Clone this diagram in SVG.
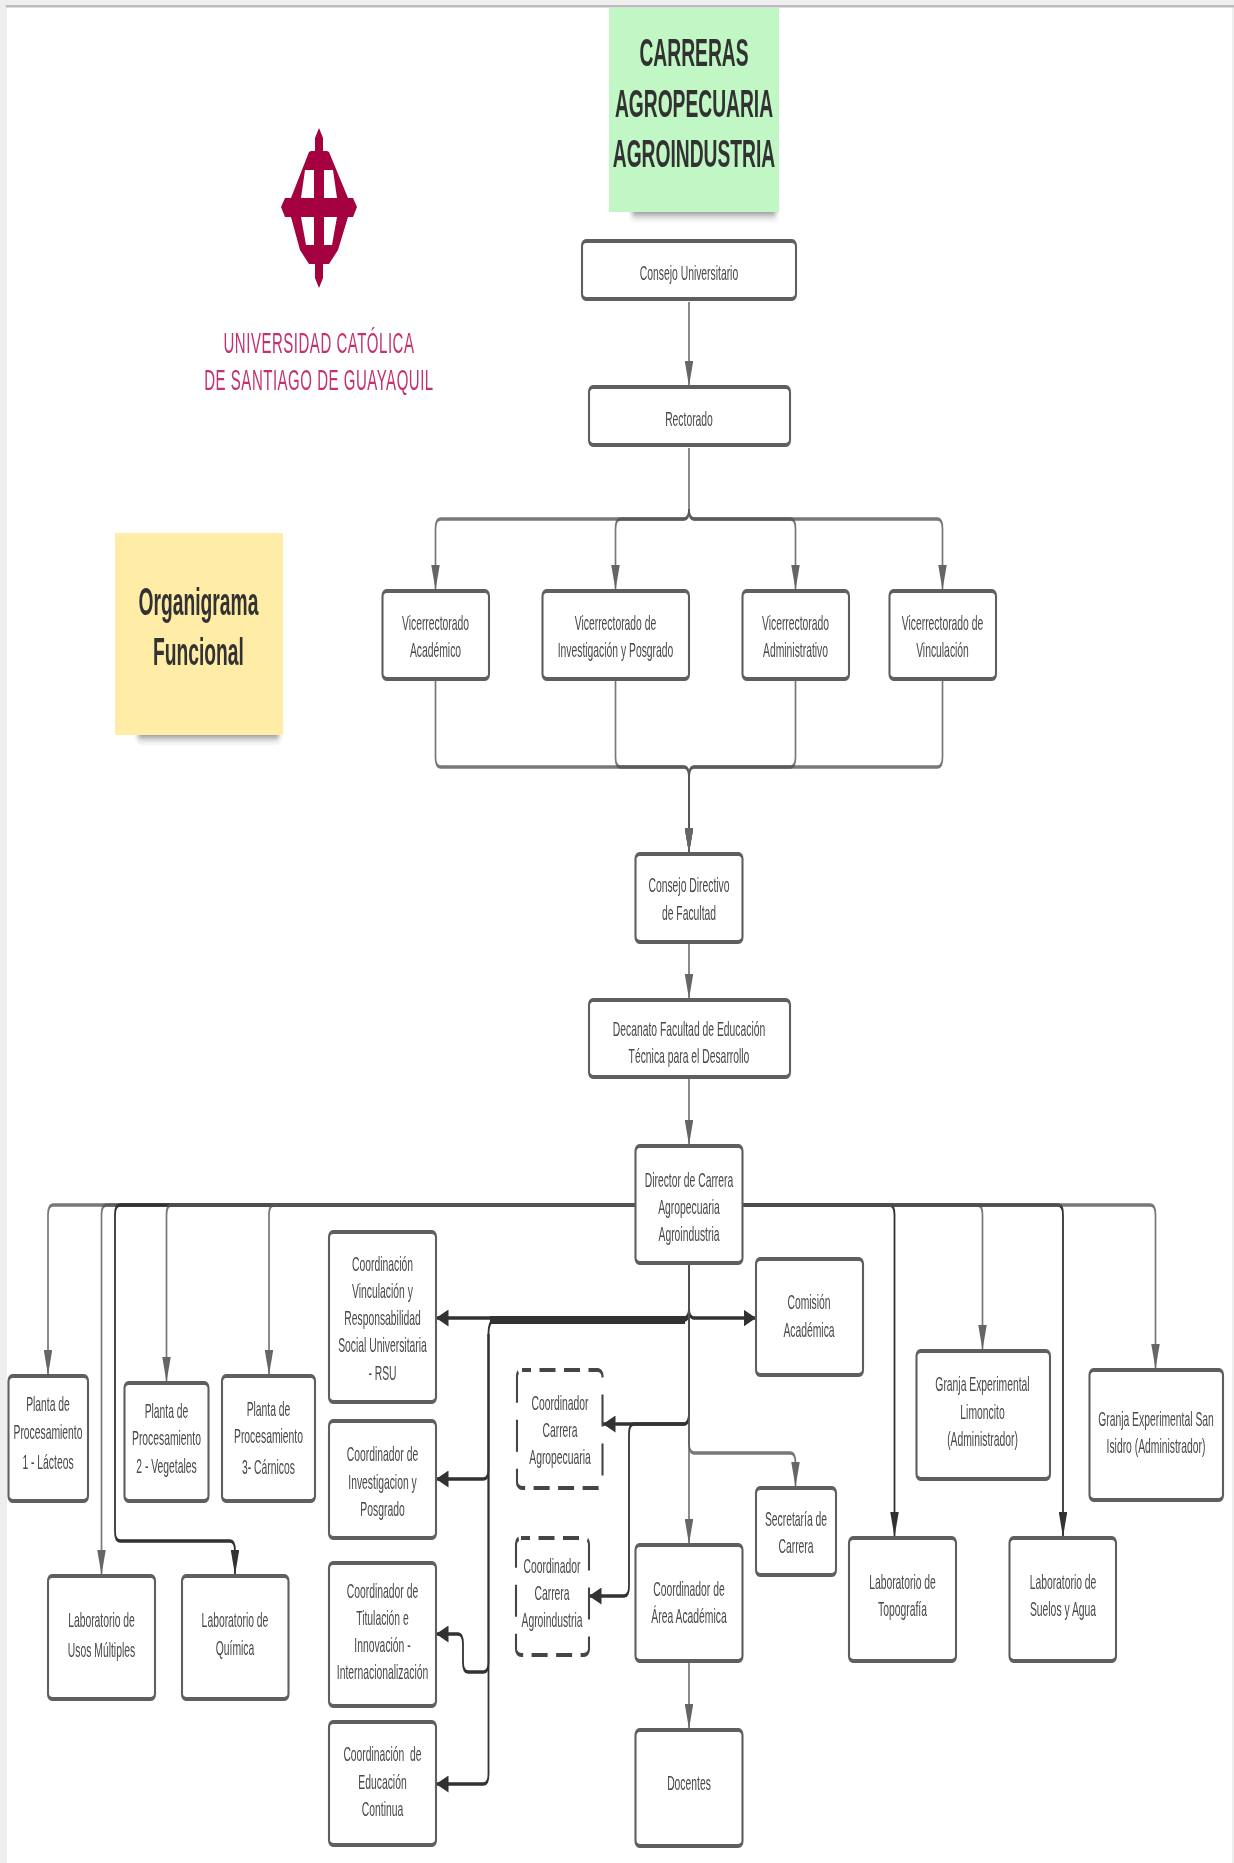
<svg xmlns="http://www.w3.org/2000/svg" width="1234" height="1863" viewBox="0 0 1234 1863">
<style>
.b{fill:#fff;stroke:#5f5f5f;stroke-width:4.2}
.d{fill:#fff;stroke:#444;stroke-width:4.2;stroke-dasharray:32 17;stroke-dashoffset:14}
.t{font-family:"Liberation Sans",Arial,sans-serif;font-size:20.7px;fill:#484848;text-anchor:middle}
.h{font-family:"Liberation Sans",Arial,sans-serif;font-size:38.5px;font-weight:bold;fill:#333;text-anchor:middle}
.l{font-family:"Liberation Sans",Arial,sans-serif;font-size:30px;letter-spacing:1.05px;fill:#c2326f;text-anchor:middle}
.g{fill:none;stroke:#555;stroke-width:3.4;stroke-opacity:.8;marker-end:url(#ag)}
.g0{fill:none;stroke:#555;stroke-width:3.4;stroke-opacity:.8}
.k{fill:none;stroke:#333;stroke-width:3.6;marker-end:url(#ak)}
</style>
<defs>
<marker id="ag" markerUnits="userSpaceOnUse" markerWidth="25" markerHeight="17" refX="25" refY="8.5" orient="auto"><path d="M0 0L25 8.5L0 17Z" fill="#666"/></marker>
<marker id="ak" markerUnits="userSpaceOnUse" markerWidth="25" markerHeight="17" refX="25" refY="8.5" orient="auto"><path d="M0 0L25 8.5L0 17Z" fill="#333"/></marker>
<filter id="sh" x="-20%" y="-50%" width="140%" height="200%"><feGaussianBlur stdDeviation="4"/></filter>
<filter id="soft" filterUnits="userSpaceOnUse" x="0" y="0" width="2468" height="1863"><feGaussianBlur stdDeviation="0.9 0.55"/></filter>
</defs>
<rect width="1234" height="1863" fill="#fff"/>
<rect width="7" height="1863" fill="#eee"/>
<rect width="1234" height="5" fill="#eee"/>
<rect x="1232" width="2" height="1863" fill="#eee"/>
<rect x="6" y="5" width="1228" height="2.5" fill="#bbb"/>
<g transform="scale(.5 1)" filter="url(#soft)">
<g id="logo">
<g transform="scale(2 1)"><path fill="#a5003f" fill-rule="evenodd" d="M319 128L323 138V151H327L329 152L348 198H353L357 207L353 217H348L338 250L329 264H323V278L319 288L315 278V264H309L300 250L291 217H285L281 207L285 198H291L309 152L311 151H315V138ZM305 170H314V198H301ZM324 170H333L337 198H324ZM301 217H314V245H306ZM324 217H337L332 245H324Z"/></g>
<text class="l"><tspan x="638" y="353">UNIVERSIDAD CATÓLICA</tspan><tspan x="638" y="390">DE SANTIAGO DE GUAYAQUIL</tspan></text>
</g>
<g id="note-carreras">
<rect x="1264" y="200" width="288" height="15" fill="#555" opacity=".7" filter="url(#sh)"/>
<rect x="1218" y="8" width="340" height="204" fill="#c1f7c4"/>
<text class="h"><tspan x="1388" y="66">CARRERAS</tspan><tspan x="1388" y="117">AGROPECUARIA</tspan><tspan x="1388" y="167">AGROINDUSTRIA</tspan></text>
</g>
<g id="note-organigrama">
<rect x="276" y="723" width="282" height="15" fill="#555" opacity=".7" filter="url(#sh)"/>
<rect x="230" y="533" width="336" height="202" fill="#ffeca6"/>
<text class="h"><tspan x="397" y="615">Organigrama</tspan><tspan x="397" y="665">Funcional</tspan></text>
</g>
<g id="connectors">
<path class="g" d="M1378 302V386"/>
<path class="g0" d="M1378 448V509"/>
<path class="g" d="M1378 509Q1378 519 1368 519H881Q871 519 871 529V590"/>
<path class="g" d="M1378 509Q1378 519 1368 519H1241Q1231 519 1231 529V590"/>
<path class="g" d="M1378 509Q1378 519 1388 519H1581Q1591 519 1591 529V590"/>
<path class="g" d="M1378 509Q1378 519 1388 519H1875Q1885 519 1885 529V590"/>
<path class="g" d="M871 681V757Q871 767 881 767H1368Q1378 767 1378 777V853"/>
<path class="g" d="M1231 681V757Q1231 767 1241 767H1368Q1378 767 1378 777V853"/>
<path class="g" d="M1591 681V757Q1591 767 1581 767H1388Q1378 767 1378 777V853"/>
<path class="g" d="M1885 681V757Q1885 767 1875 767H1388Q1378 767 1378 777V853"/>
<path class="g" d="M1378 943V999"/>
<path class="g" d="M1378 1078V1145"/>
<path class="g" d="M1271 1205H106Q96 1205 96 1215V1375"/>
<path class="g" d="M1271 1205H213Q203 1205 203 1215V1575"/>
<path class="k" d="M1271 1205H240Q230 1205 230 1215V1531Q230 1541 240 1541H460Q470 1541 470 1551V1575"/>
<path class="g" d="M1271 1205H343Q333 1205 333 1215V1382"/>
<path class="g" d="M1271 1205H548Q538 1205 538 1215V1375"/>
<path class="k" d="M1485 1205H1779Q1789 1205 1789 1215V1537"/>
<path class="g" d="M1485 1205H1955Q1965 1205 1965 1215V1350"/>
<path class="k" d="M1485 1205H2116Q2126 1205 2126 1215V1537"/>
<path class="g" d="M1485 1205H2301Q2311 1205 2311 1215V1369"/>
<path d="M980 1320H1370" fill="none" stroke="#333" stroke-width="8"/>
<path class="k" d="M1378 1264V1308Q1378 1318 1368 1318H872"/>
<path class="k" d="M1378 1264V1310Q1378 1320 1368 1320H991Q977 1320 977 1334V1469Q977 1479 967 1479H872"/>
<path class="k" d="M977 1334V1662Q977 1672 967 1672H936Q926 1672 926 1662V1644Q926 1634 916 1634H872"/>
<path class="k" d="M977 1334V1774Q977 1784 967 1784H872"/>
<path class="k" d="M1378 1264V1308Q1378 1318 1388 1318H1512"/>
<path class="k" d="M1378 1264V1414Q1378 1424 1368 1424H1206"/>
<path class="k" d="M1378 1264V1414Q1378 1424 1368 1424H1268Q1258 1424 1258 1434V1586Q1258 1596 1248 1596H1178"/>
<path class="g" d="M1378 1264V1443Q1378 1453 1388 1453H1581Q1591 1453 1591 1463V1487"/>
<path class="g" d="M1378 1264V1544"/>
<path class="g" d="M1378 1662V1729"/>
</g>
<g id="nodes" transform="translate(0 -1)">
<g id="n-consejo"><rect class="b" x="1164" y="242" width="428" height="58" rx="8" ry="5"/><text class="t" x="1378" y="281">Consejo Universitario</text></g>
<g id="n-rectorado"><rect class="b" x="1178" y="388" width="402" height="58" rx="8" ry="5"/><text class="t" x="1378" y="427">Rectorado</text></g>
<g id="n-vice-acad"><rect class="b" x="765" y="592" width="213" height="88" rx="8" ry="5"/><text class="t"><tspan x="871" y="631">Vicerrectorado</tspan><tspan x="871" y="658">Académico</tspan></text></g>
<g id="n-vice-inv"><rect class="b" x="1085" y="592" width="293" height="88" rx="8" ry="5"/><text class="t"><tspan x="1231" y="631">Vicerrectorado de</tspan><tspan x="1231" y="658">Investigación y Posgrado</tspan></text></g>
<g id="n-vice-adm"><rect class="b" x="1485" y="592" width="213" height="88" rx="8" ry="5"/><text class="t"><tspan x="1591" y="631">Vicerrectorado</tspan><tspan x="1591" y="658">Administrativo</tspan></text></g>
<g id="n-vice-vin"><rect class="b" x="1779" y="592" width="213" height="88" rx="8" ry="5"/><text class="t"><tspan x="1885" y="631">Vicerrectorado de</tspan><tspan x="1885" y="658">Vinculación</tspan></text></g>
<g id="n-consejo-dir"><rect class="b" x="1271" y="855" width="214" height="88" rx="8" ry="5"/><text class="t"><tspan x="1378" y="893.5">Consejo Directivo</tspan><tspan x="1378" y="921">de Facultad</tspan></text></g>
<g id="n-decanato"><rect class="b" x="1178" y="1001" width="402" height="77" rx="8" ry="5"/><text class="t"><tspan x="1378" y="1037">Decanato Facultad de Educación</tspan><tspan x="1378" y="1064.5">Técnica para el Desarrollo</tspan></text></g>
<g id="n-director"><rect class="b" x="1271" y="1147" width="214" height="117" rx="8" ry="5"/><text class="t"><tspan x="1378" y="1188">Director de Carrera</tspan><tspan x="1378" y="1214.6">Agropecuaria</tspan><tspan x="1378" y="1242">Agroindustria</tspan></text></g>
<g id="n-planta1"><rect class="b" x="17" y="1377" width="159" height="125" rx="8" ry="5"/><text class="t"><tspan x="96" y="1412.5">Planta de</tspan><tspan x="96" y="1440">Procesamiento</tspan><tspan x="96" y="1470">1 - Lácteos</tspan></text></g>
<g id="n-planta2"><rect class="b" x="249" y="1384" width="168" height="118" rx="8" ry="5"/><text class="t"><tspan x="333" y="1419">Planta de</tspan><tspan x="333" y="1446">Procesamiento</tspan><tspan x="333" y="1474">2 - Vegetales</tspan></text></g>
<g id="n-planta3"><rect class="b" x="444" y="1377" width="186" height="125" rx="8" ry="5"/><text class="t"><tspan x="537" y="1417">Planta de</tspan><tspan x="537" y="1444">Procesamiento</tspan><tspan x="537" y="1475">3- Cárnicos</tspan></text></g>
<g id="n-lab-usos"><rect class="b" x="96" y="1577" width="214" height="123" rx="8" ry="5"/><text class="t"><tspan x="203" y="1628.5">Laboratorio de</tspan><tspan x="203" y="1658">Usos Múltiples</tspan></text></g>
<g id="n-lab-quim"><rect class="b" x="364" y="1577" width="213" height="123" rx="8" ry="5"/><text class="t"><tspan x="470" y="1628.5">Laboratorio de</tspan><tspan x="470" y="1656">Química</tspan></text></g>
<g id="n-coord-vin"><rect class="b" x="658" y="1233" width="214" height="170" rx="8" ry="5"/><text class="t"><tspan x="765" y="1272">Coordinación</tspan><tspan x="765" y="1299">Vinculación y</tspan><tspan x="765" y="1326">Responsabilidad</tspan><tspan x="765" y="1353.5">Social Universitaria</tspan><tspan x="765" y="1381.5">- RSU</tspan></text></g>
<g id="n-coord-inv"><rect class="b" x="658" y="1422" width="214" height="117" rx="8" ry="5"/><text class="t"><tspan x="765" y="1462.5">Coordinador de</tspan><tspan x="765" y="1490">Investigacion y</tspan><tspan x="765" y="1517">Posgrado</tspan></text></g>
<g id="n-coord-tit"><rect class="b" x="658" y="1564" width="214" height="143" rx="8" ry="5"/><text class="t"><tspan x="765" y="1599">Coordinador de</tspan><tspan x="765" y="1626">Titulación e</tspan><tspan x="765" y="1653">Innovación -</tspan><tspan x="765" y="1680">Internacionalización</tspan></text></g>
<g id="n-coord-edu"><rect class="b" x="658" y="1723" width="214" height="123" rx="8" ry="5"/><text class="t"><tspan x="765" y="1762.5">Coordinación&#160; de</tspan><tspan x="765" y="1790">Educación</tspan><tspan x="765" y="1817.5">Continua</tspan></text></g>
<g id="n-carrera-agrop"><rect class="d" x="1034" y="1371" width="171" height="118" rx="10" ry="6"/><text class="t"><tspan x="1120" y="1411">Coordinador</tspan><tspan x="1120" y="1438">Carrera</tspan><tspan x="1120" y="1465.5">Agropecuaria</tspan></text></g>
<g id="n-carrera-agroi"><rect class="d" x="1032" y="1539" width="146" height="117" rx="10" ry="6"/><text class="t"><tspan x="1104" y="1574">Coordinador</tspan><tspan x="1104" y="1601">Carrera</tspan><tspan x="1104" y="1628.5">Agroindustria</tspan></text></g>
<g id="n-comision"><rect class="b" x="1512" y="1260" width="214" height="116" rx="8" ry="5"/><text class="t"><tspan x="1618" y="1310.5">Comisión</tspan><tspan x="1618" y="1337.6">Académica</tspan></text></g>
<g id="n-secretaria"><rect class="b" x="1512" y="1489" width="160" height="87" rx="8" ry="5"/><text class="t"><tspan x="1592" y="1527">Secretaría de</tspan><tspan x="1592" y="1554.5">Carrera</tspan></text></g>
<g id="n-area"><rect class="b" x="1271" y="1546" width="214" height="116" rx="8" ry="5"/><text class="t"><tspan x="1378" y="1596.6">Coordinador de</tspan><tspan x="1378" y="1623.7">Área Académica</tspan></text></g>
<g id="n-docentes"><rect class="b" x="1271" y="1731" width="214" height="116" rx="8" ry="5"/><text class="t" x="1378" y="1791">Docentes</text></g>
<g id="n-lab-topo"><rect class="b" x="1698" y="1539" width="214" height="123" rx="8" ry="5"/><text class="t"><tspan x="1805" y="1590">Laboratorio de</tspan><tspan x="1805" y="1617.5">Topografía</tspan></text></g>
<g id="n-lab-suelos"><rect class="b" x="2019" y="1539" width="213" height="123" rx="8" ry="5"/><text class="t"><tspan x="2126" y="1590">Laboratorio de</tspan><tspan x="2126" y="1617.5">Suelos y Agua</tspan></text></g>
<g id="n-granja-lim"><rect class="b" x="1833" y="1352" width="267" height="128" rx="8" ry="5"/><text class="t"><tspan x="1965" y="1392.5">Granja Experimental</tspan><tspan x="1965" y="1420">Limoncito</tspan><tspan x="1965" y="1447.5">(Administrador)</tspan></text></g>
<g id="n-granja-san"><rect class="b" x="2179" y="1371" width="267" height="130" rx="8" ry="5"/><text class="t"><tspan x="2312" y="1427">Granja Experimental San</tspan><tspan x="2312" y="1454">Isidro (Administrador)</tspan></text></g>
</g>
</g>
</svg>
